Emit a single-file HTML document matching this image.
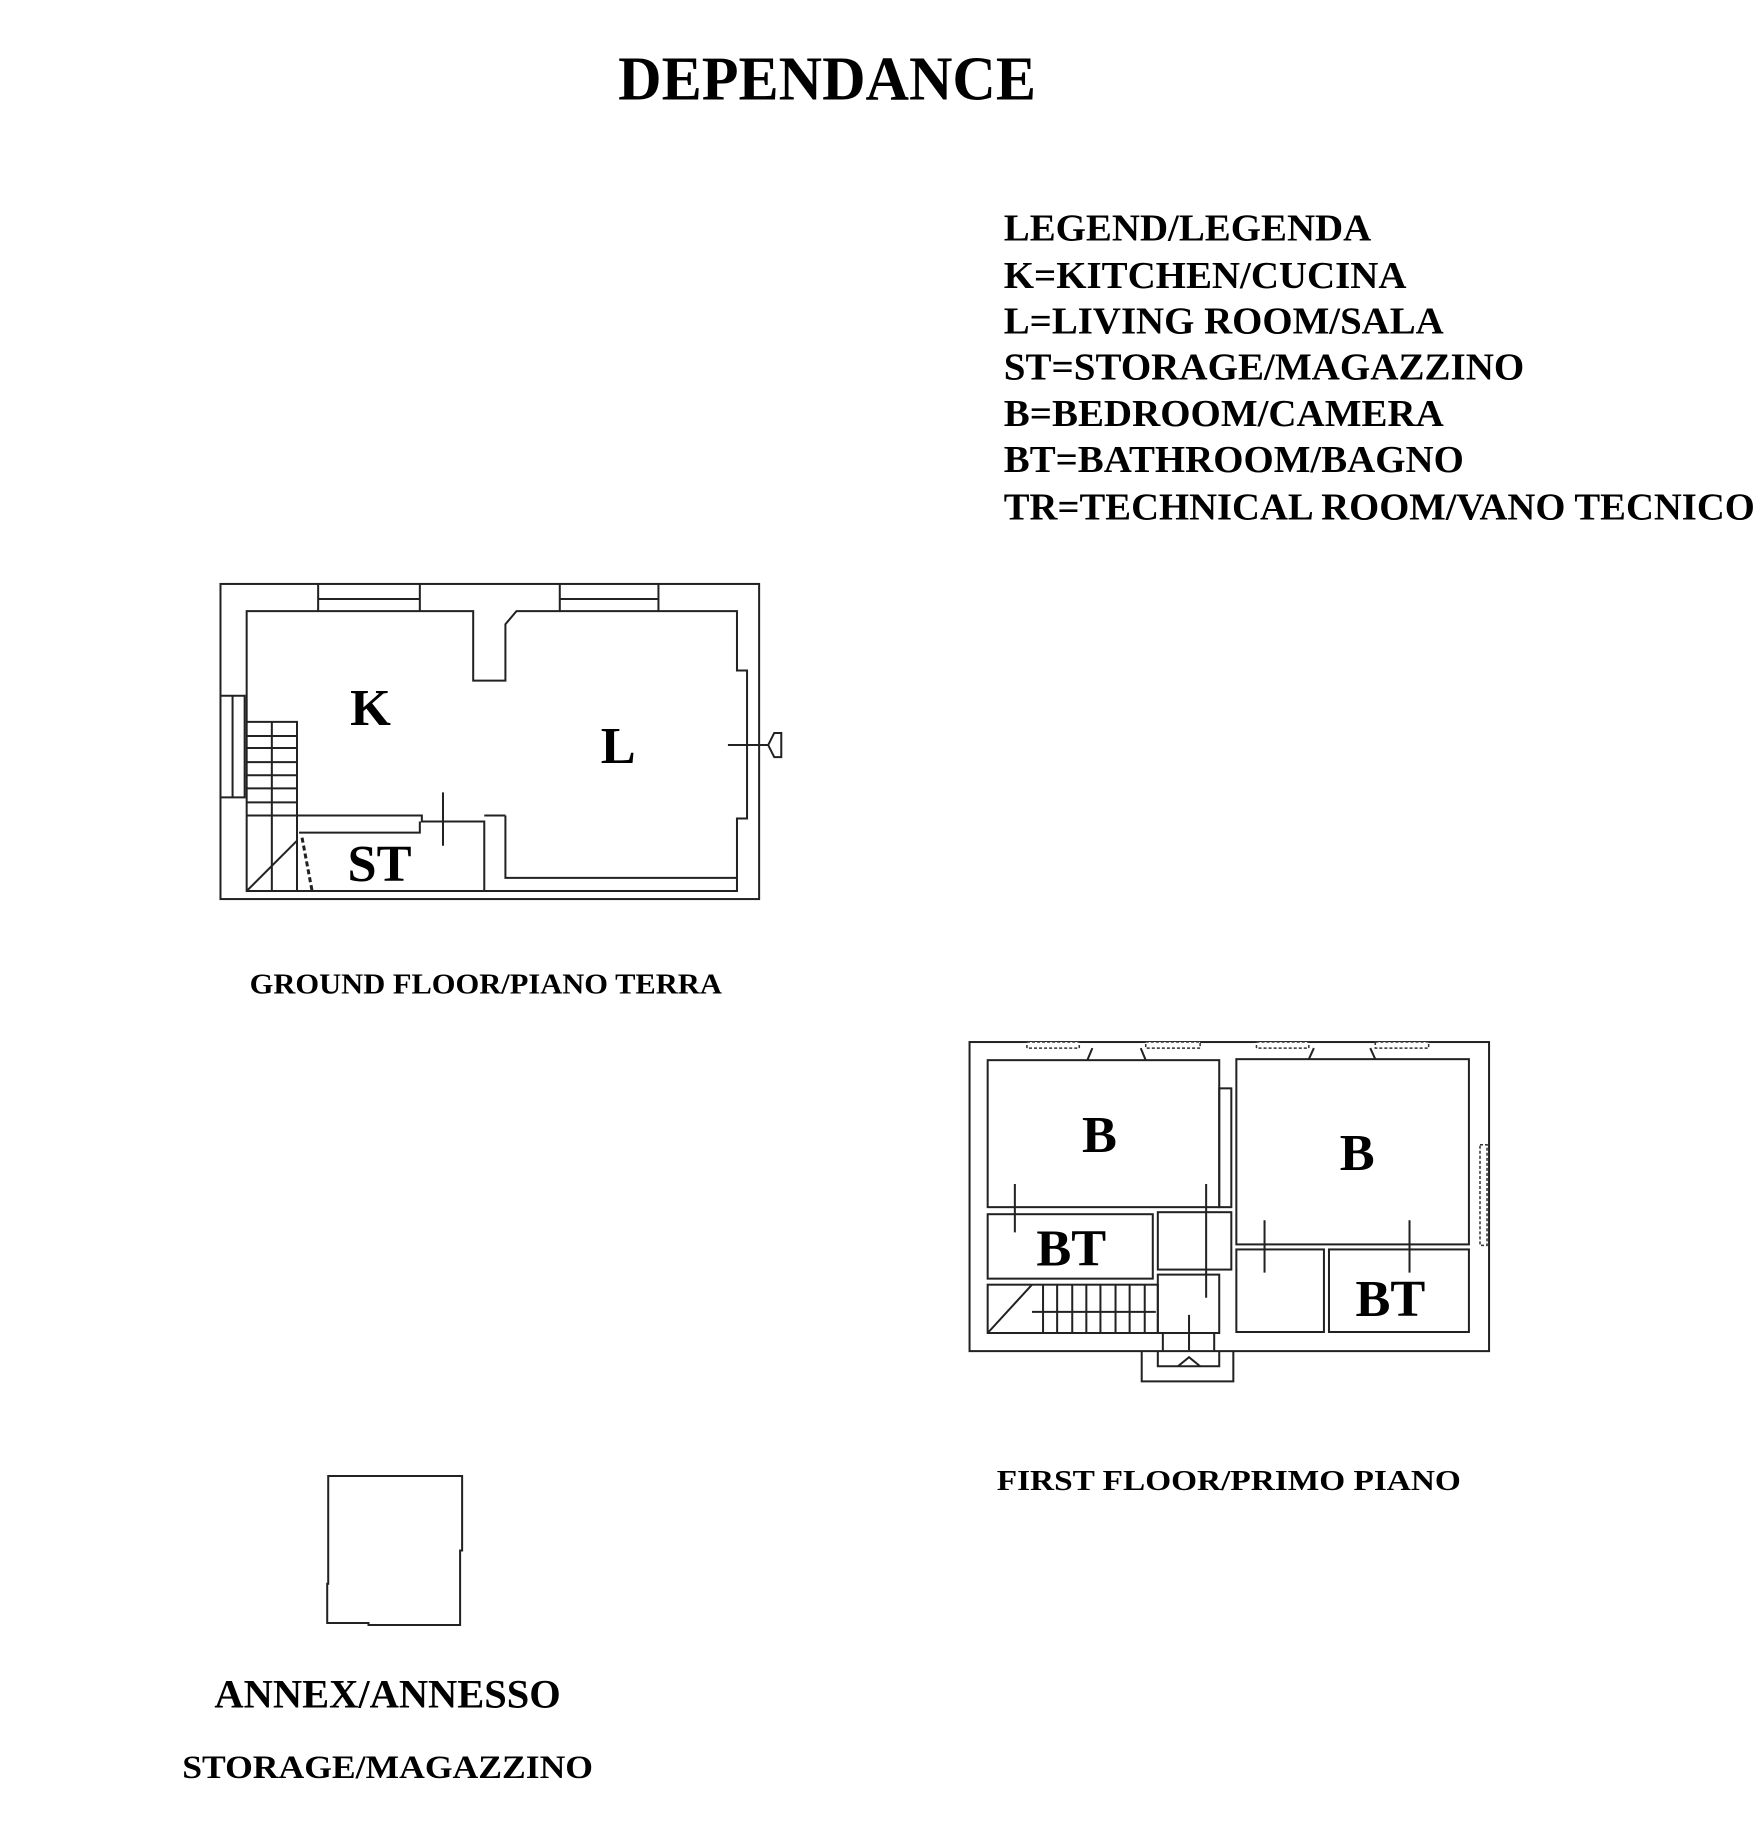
<!DOCTYPE html>
<html><head><meta charset="utf-8"><style>body{margin:0;background:#fff}svg{display:block}</style></head>
<body>
<svg width="1760" height="1838" viewBox="0 0 1760 1838" xmlns="http://www.w3.org/2000/svg" font-family="Liberation Serif, serif" font-weight="bold">
<rect width="1760" height="1838" fill="#fff"/>
<g transform="scale(1.0068)">
<text x="614" y="99" font-size="62" textLength="415" lengthAdjust="spacingAndGlyphs">DEPENDANCE</text>
<g font-size="38">
<text x="997" y="239" textLength="365" lengthAdjust="spacingAndGlyphs">LEGEND/LEGENDA</text>
<text x="997" y="286" textLength="400" lengthAdjust="spacingAndGlyphs">K=KITCHEN/CUCINA</text>
<text x="997" y="331" textLength="437" lengthAdjust="spacingAndGlyphs">L=LIVING ROOM/SALA</text>
<text x="997" y="377" textLength="517" lengthAdjust="spacingAndGlyphs">ST=STORAGE/MAGAZZINO</text>
<text x="997" y="423" textLength="437" lengthAdjust="spacingAndGlyphs">B=BEDROOM/CAMERA</text>
<text x="997" y="469" textLength="457" lengthAdjust="spacingAndGlyphs">BT=BATHROOM/BAGNO</text>
<text x="997" y="516" textLength="746" lengthAdjust="spacingAndGlyphs">TR=TECHNICAL ROOM/VANO TECNICO</text>
</g>
<g fill="none" stroke="#222" stroke-width="2">
<rect x="219" y="580" width="535" height="313"/>
<path d="M245 607 H470 V676 H502 V620 L513 607 H732 V666 H742 V813 H732 V885 H245 Z"/>
<path d="M316 580 V607 M417 580 V607 M316 595 H417 M556 580 V607 M654 580 V607 M556 595 H654"/>
<path d="M219 691 H243 V792 H219 M231 691 V792"/>
<path d="M245 717 H295 V885 M270 717 V885 M245 731 H295 M245 743 H295 M245 757 H295 M245 770 H295 M245 783 H295 M245 797 H295 M245 810 H295 M245 885 L295 835"/>
<path d="M295 810 H419 V816 H481 V885 M297 827 H417 V816 M502 810 V872 H732 M481 810 H502"/>
<path d="M440 787 V840 M723 740 H763"/>
<path d="M300 832 L310 885" stroke-dasharray="5 3" stroke-width="3"/>
<path d="M763 740 L769 728 H776 V752 H769 Z"/>
<rect x="963" y="1035" width="516" height="307"/>
<rect x="981" y="1053" width="230" height="146"/>
<rect x="1228" y="1052" width="231" height="184"/>
<rect x="1211" y="1081" width="12" height="118"/>
<rect x="981" y="1206" width="164" height="64"/>
<rect x="1150" y="1204" width="73" height="57"/>
<rect x="981" y="1276" width="169" height="48"/>
<rect x="1150" y="1266" width="61" height="58"/>
<rect x="1228" y="1241" width="87" height="82"/>
<rect x="1320" y="1241" width="139" height="82"/>
<path d="M1036 1276 V1324 M1050 1276 V1324 M1065 1276 V1324 M1079 1276 V1324 M1093 1276 V1324 M1108 1276 V1324 M1122 1276 V1324 M1137 1276 V1324 M981 1324 L1025 1276 M1025 1303 H1148"/>
<path d="M1134 1342 V1372 H1225 V1342 M1150 1342 V1357 H1211 V1342 M1155 1324 V1342 M1206 1324 V1342"/>
<path d="M1181 1306 V1341 M1170 1357 L1181 1348 L1192 1357"/>
<path d="M1008 1176 V1224 M1198 1176 V1289 M1256 1212 V1264 M1400 1212 V1264"/>
<path d="M1085 1041 L1080 1053 M1133 1041 L1138 1053 M1305 1041 L1300 1052 M1361 1041 L1366 1052"/>
</g>
<g fill="#fff" stroke="#333" stroke-width="1.5">
<rect x="1020" y="1035" width="52" height="6" stroke-dasharray="3 2"/>
<rect x="1138" y="1035" width="54" height="6" stroke-dasharray="3 2"/>
<rect x="1248" y="1035" width="52" height="6" stroke-dasharray="3 2"/>
<rect x="1366" y="1035" width="53" height="6" stroke-dasharray="3 2"/>
<rect x="1470" y="1137" width="7" height="100" stroke-dasharray="3 2"/>
</g>
<path d="M326 1466 H459 V1540 H457 V1614 H366 V1612 H325 V1573 H326 Z" fill="none" stroke="#222" stroke-width="2"/>
<g font-size="52">
<text x="368" y="720" text-anchor="middle">K</text>
<text x="614" y="758" text-anchor="middle">L</text>
<text x="377" y="875" text-anchor="middle">ST</text>
<text x="1092" y="1144" text-anchor="middle">B</text>
<text x="1348" y="1162" text-anchor="middle">B</text>
<text x="1064" y="1257" text-anchor="middle">BT</text>
<text x="1381" y="1307" text-anchor="middle">BT</text>
</g>
<text x="248" y="987" font-size="28" textLength="469" lengthAdjust="spacingAndGlyphs">GROUND FLOOR/PIANO TERRA</text>
<text x="990" y="1480" font-size="28" textLength="461" lengthAdjust="spacingAndGlyphs">FIRST FLOOR/PRIMO PIANO</text>
<text x="213" y="1696" font-size="40" textLength="344" lengthAdjust="spacingAndGlyphs">ANNEX/ANNESSO</text>
<text x="181" y="1766" font-size="33" textLength="408" lengthAdjust="spacingAndGlyphs">STORAGE/MAGAZZINO</text>
</g>
</svg>
</body></html>
